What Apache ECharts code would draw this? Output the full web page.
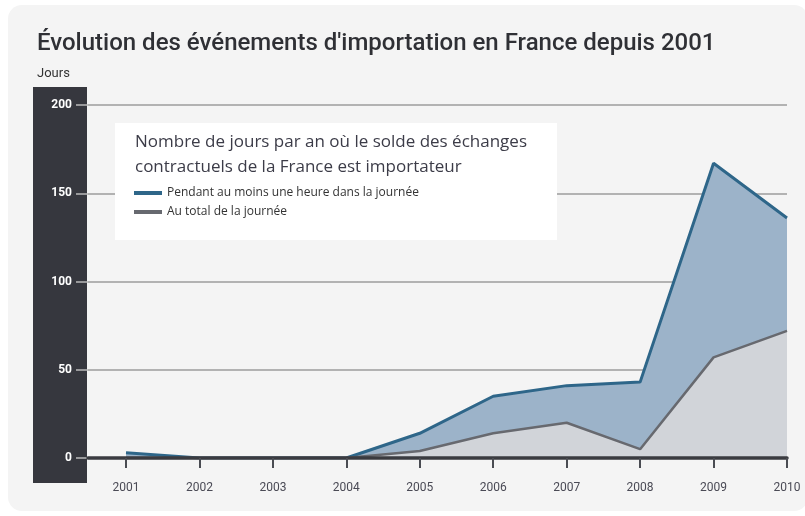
<!DOCTYPE html>
<html>
<head>
<meta charset="utf-8">
<script src="https://cdn.jsdelivr.net/npm/echarts@6/dist/echarts.min.js"></script>
<style>
html,body{margin:0;padding:0;background:#ffffff;}
#c{width:805px;height:516px;}
</style>
</head>
<body>
<div id="c"></div>
<script>
const years = ['2001', '2002', '2003', '2004', '2005', '2006', '2007', '2008', '2009', '2010'];
const auMoinsUneHeure = [3, 0, 0, 0, 14, 35, 41, 43, 167, 136];
const auTotal = [0, 0, 0, 0, 4, 14, 20, 5, 57, 72];
const yTicks = [0, 50, 100, 150, 200];
const seriesNames = ['Pendant au moins une heure dans la journée', 'Au total de la journée'];
const titleText = "Évolution des événements d'importation en France depuis 2001";
const legendHeading = ['Nombre de jours par an où le solde des échanges', 'contractuels de la France est importateur'];

const chart = echarts.init(document.getElementById('c'), null, {renderer: 'canvas'});

chart.setOption({
  animation: false,
  backgroundColor: '#ffffff',
  title: {
    text: titleText,
    left: 32, top: 27,
    textStyle: {fontFamily: 'Roboto', fontSize: 24, fontWeight: 500, color: '#2f3035'}
  },
  grid: [
    {left: 88, right: 18, top: 105, bottom: 58, containLabel: false},
    {left: 126, right: 18, top: 105, bottom: 58, containLabel: false}
  ],
  xAxis: [
    {
      gridIndex: 0, type: 'value', min: 0, max: 1, z: 6,
      splitLine: {show: false}, axisTick: {show: false}, axisLabel: {show: false},
      axisLine: {show: true, onZero: false, lineStyle: {color: '#3a3b40', width: 3.5}}
    },
    {
      gridIndex: 1, type: 'category', data: years, boundaryGap: false, z: 6,
      axisLine: {show: false},
      axisTick: {show: true, length: 10, lineStyle: {color: '#4a4c52', width: 2}},
      axisLabel: {margin: 24, fontFamily: 'Roboto', fontSize: 12, color: '#4a4a55'}
    }
  ],
  yAxis: [
    {
      gridIndex: 0, type: 'value', min: 0, max: 200, interval: 50,
      name: 'Jours', nameLocation: 'end', nameGap: 0,
      nameTextStyle: {fontFamily: 'Roboto', fontSize: 13, color: '#333', align: 'left', padding: [0, 0, 25, -51]},
      axisLine: {show: false},
      axisTick: {show: true, length: 12, lineStyle: {color: '#bbbbbb', width: 1.5}},
      axisLabel: {margin: 16, fontFamily: 'Roboto', fontSize: 12, fontWeight: 'bold', color: '#ffffff'},
      splitLine: {show: true, lineStyle: {color: '#9d9d9d', width: 1.5}}
    },
    {
      gridIndex: 1, type: 'value', min: 0, max: 200, interval: 50, show: false,
      splitLine: {show: false}
    }
  ],
  legend: {
    orient: 'vertical', left: 129, top: 182, itemGap: 7,
    itemWidth: 28, itemHeight: 4, icon: 'rect',
    textStyle: {fontFamily: 'Open Sans', fontSize: 12, color: '#333'},
    data: seriesNames, z: 20
  },
  graphic: [
    {type: 'rect', z: -100, shape: {x: 8, y: 5, width: 800, height: 506, r: 14}, style: {fill: '#f4f4f4'}},
    {type: 'rect', z: -50, shape: {x: 33, y: 87, width: 54, height: 396}, style: {fill: '#36373e'}},
    {type: 'rect', z: 10, shape: {x: 115, y: 123, width: 442, height: 117}, style: {fill: '#ffffff'}},
    {type: 'text', z: 11, left: 135, top: 130, style: {text: legendHeading.join('\n'), fontFamily: 'Open Sans', fontSize: 17, lineHeight: 25, fill: '#3c3c48'}}
  ],
  series: [
    {
      name: seriesNames[0], type: 'line', data: auMoinsUneHeure,
      xAxisIndex: 1, yAxisIndex: 1,
      symbol: 'none', z: 3,
      lineStyle: {color: '#2e6689', width: 3},
      itemStyle: {color: '#2e6689'},
      areaStyle: {color: '#9cb3c9', opacity: 1}
    },
    {
      name: seriesNames[1], type: 'line', data: auTotal,
      xAxisIndex: 1, yAxisIndex: 1,
      symbol: 'none', z: 4,
      lineStyle: {color: '#67696f', width: 2.5},
      itemStyle: {color: '#67696f'},
      areaStyle: {color: '#d1d4d9', opacity: 1}
    }
  ]
});
</script>
</body>
</html>
